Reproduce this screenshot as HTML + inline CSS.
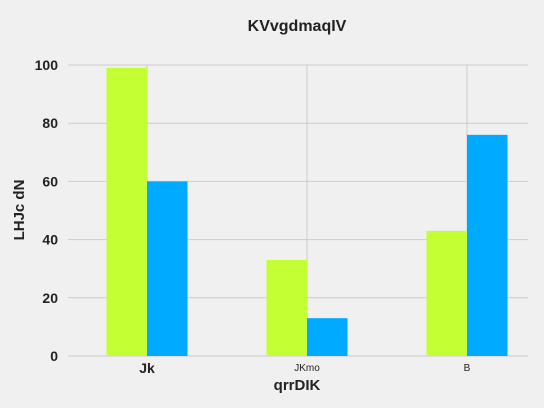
<!DOCTYPE html>
<html><head><meta charset="utf-8"><style>
body{margin:0;background:#f0f0f0;}
svg{display:block;font-family:"Liberation Sans Narrow","Liberation Sans",sans-serif;}
</style></head><body>
<svg id="chart" width="544" height="408" viewBox="0 0 544 408">
<rect width="544" height="408" fill="#f0f0f0"/>
<text x="297" y="31" text-anchor="middle" font-size="16" font-weight="bold" fill="#222">KVvgdmaqIV</text>
<text x="297" y="390" text-anchor="middle" font-size="15" font-weight="bold" fill="#222">qrrDIK</text>
<text transform="translate(24,210) rotate(-90)" text-anchor="middle" font-size="15" font-weight="bold" fill="#222">LHJc dN</text>
<g id="grid"></g><g id="bars"></g><g id="ticks"></g>
</svg>
<script>
const categories=["Jk","JKmo","B"];
const seriesGreen=[99,33,43];
const seriesBlue=[60,13,76];
const yTicks=[0,20,40,60,80,100];
const ns="http://www.w3.org/2000/svg";
const x0=68,x1=528,yTop=65,yBot=356;
const yScale=v=>yBot-(v/100)*(yBot-yTop);
const xCenter=i=>147+i*160;
const bw=40.5;
function mk(tag,attrs,parent){const e=document.createElementNS(ns,tag);for(const k in attrs)e.setAttribute(k,attrs[k]);parent.appendChild(e);return e;}
const grid=document.getElementById('grid'),bars=document.getElementById('bars'),ticks=document.getElementById('ticks');
yTicks.forEach(t=>{
  const l=mk('line',{x1:x0,x2:x1,y1:yScale(t),y2:yScale(t),stroke:'#cbcbcb','stroke-width':1},grid);
  
  
  const tx=mk('text',{x:58,y:yScale(t)+5,'text-anchor':'end','font-size':14,'font-weight':'bold',fill:'#222'},ticks);
  tx.textContent=t;
  
  
});
categories.forEach((c,i)=>{
  const l=mk('line',{x1:xCenter(i),x2:xCenter(i),y1:yTop,y2:yBot,stroke:'#cbcbcb','stroke-width':1},grid);
  
  
  const g=mk('rect',{x:xCenter(i)-bw,y:yScale(seriesGreen[i]),width:bw,height:yBot-yScale(seriesGreen[i]),fill:'#c3ff33'},bars);
  
  
  const b=mk('rect',{x:xCenter(i),y:yScale(seriesBlue[i]),width:bw,height:yBot-yScale(seriesBlue[i]),fill:'#00aaff'},bars);
  
  
  const big=i===0;
  const tx=mk('text',{x:xCenter(i),y:big?373:371,'text-anchor':'middle','font-size':big?14:10,'font-weight':big?'bold':'normal',fill:'#222'},ticks);
  tx.textContent=c;
  
  
});
</script>
</body></html>
